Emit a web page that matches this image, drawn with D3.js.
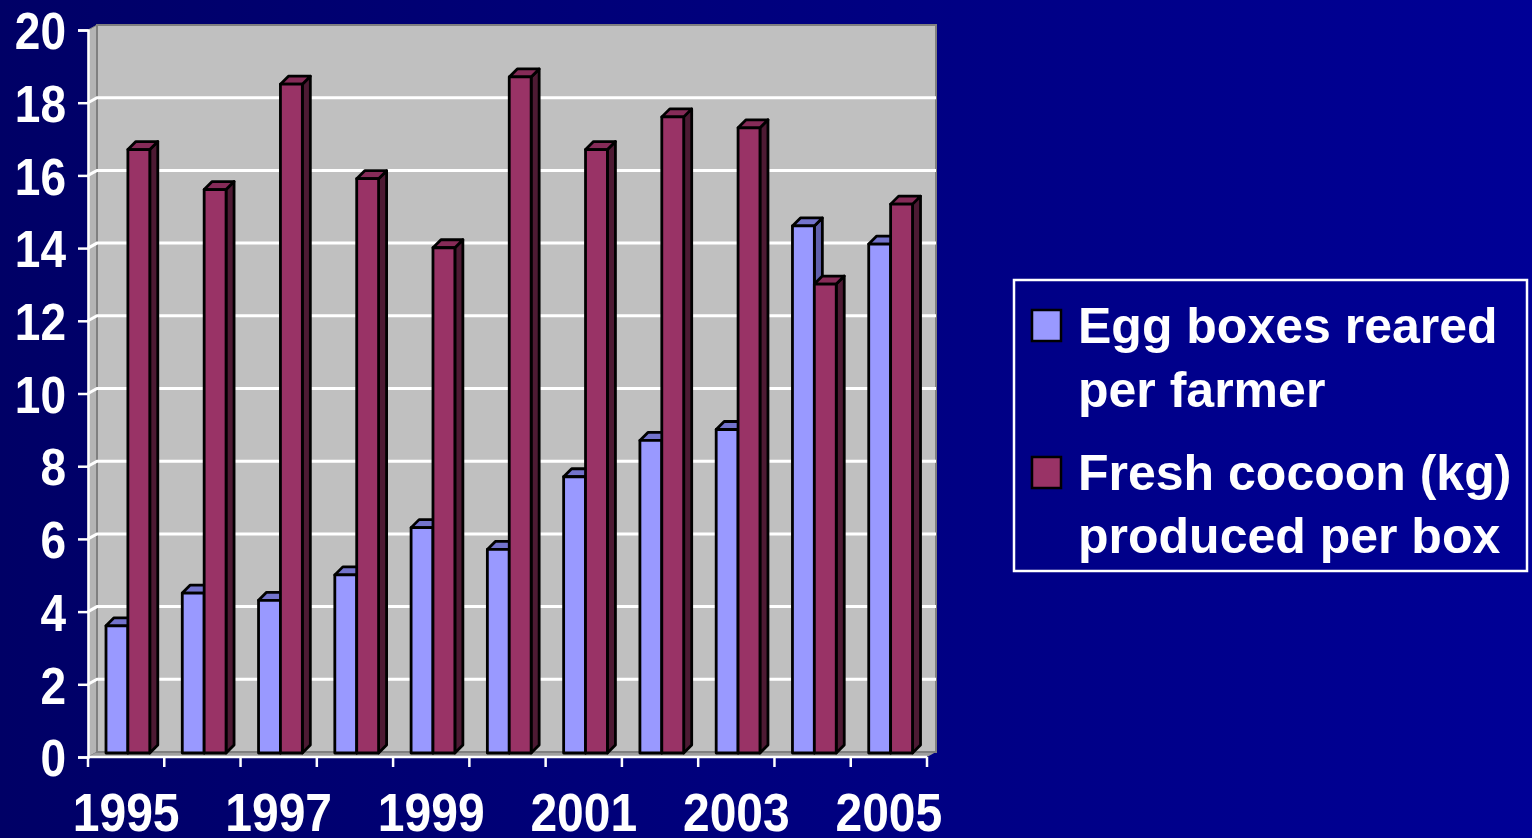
<!DOCTYPE html>
<html>
<head>
<meta charset="utf-8">
<script src="https://cdn.jsdelivr.net/npm/d3@7"></script>
<style>
  html, body { margin: 0; padding: 0; overflow: hidden; }
  body { width: 1532px; height: 838px; }
  text { font-family: "Liberation Sans", Arial, sans-serif; font-weight: bold; fill: #fff; }
</style>
</head>
<body>
<div class="card"></div>
<script>
/* global d3*/

var years = ["1995", "1996", "1997", "1998", "1999", "2000", "2001", "2002", "2003", "2004", "2005"];
var eggBoxes = [3.5, 4.4, 4.2, 4.9, 6.2, 5.6, 7.6, 8.6, 8.9, 14.5, 14.0];
var cocoonKg = [16.6, 15.5, 18.4, 15.8, 13.9, 18.6, 16.6, 17.5, 17.2, 12.9, 15.1];
var yTicks = [0, 2, 4, 6, 8, 10, 12, 14, 16, 18, 20];
var xLabels = ["1995", "1997", "1999", "2001", "2003", "2005"];
var seriesNames = [["Egg boxes reared", "per farmer"], ["Fresh cocoon (kg)", "produced per box"]];

var width = 1532,
    height = 838;

var svg = d3.select(".card").append("svg")
    .attr("width", width)
    .attr("height", height);

// background
var defs = svg.append("defs");
var grad = defs.append("linearGradient").attr("id", "bg")
    .attr("x1", "0").attr("x2", "1").attr("y1", "0").attr("y2", "0");
grad.append("stop").attr("offset", "0").attr("stop-color", "#000066");
grad.append("stop").attr("offset", "1").attr("stop-color", "#000096");
svg.append("rect").attr("width", width).attr("height", height).attr("fill", "url(#bg)");

var x = d3.scaleBand().domain(years).range([88, 927]).padding(0);
var y = d3.scaleLinear().domain([0, 20]).range([757, 30]);
var bw = x.bandwidth();
var inner = d3.scaleBand().domain([0, 1]).range([bw * 0.236, bw * 0.81]).padding(0);

// depth of wall and bars
var wdx = 9, wdy = -5;
var bdx = 8, bdy = -8;
var bShift = -4;

// side wall, floor, back wall
svg.append("polygon")
    .attr("points", [[88, y(0)], [88, y(20)], [88 + wdx, y(20) + wdy], [88 + wdx, y(0) + wdy]].join(" "))
    .attr("fill", "#b4b4b4").attr("stroke", "#808080").attr("stroke-width", 1);
svg.append("polygon")
    .attr("points", [[88, y(0)], [927, y(0)], [927 + wdx, y(0) + wdy], [88 + wdx, y(0) + wdy]].join(" "))
    .attr("fill", "#a0a0a0");
svg.append("rect")
    .attr("x", 88 + wdx).attr("y", y(20) + wdy)
    .attr("width", 927 - 88).attr("height", y(0) - y(20))
    .attr("fill", "#c0c0c0").attr("stroke", "#808080").attr("stroke-width", 2);

// gridlines (back wall + side wall)
svg.append("g").selectAll("path").data(yTicks.slice(1, -1)).enter().append("path")
    .attr("d", function(d) {
        return "M88," + y(d) + "L" + (88 + wdx) + "," + (y(d) + wdy) + "L" + (927 + wdx) + "," + (y(d) + wdy);
    })
    .attr("fill", "none").attr("stroke", "#fff").attr("stroke-width", 3);

// bars
var colors = [
    { front: "#9999ff", top: "#7373cc", side: "#6060ad" },
    { front: "#993366", top: "#862b58", side: "#4d1a33" }
];
var rows = years.map(function(yr, i) { return { year: yr, vals: [eggBoxes[i], cocoonKg[i]] }; });

var drawBar = function(g, x0, v, c) {
    var x1 = x0 + inner.bandwidth();
    var yt = y(v) + bShift, yb = y(0) + bShift;
    g.append("polygon")
        .attr("points", [[x1, yt], [x1 + bdx, yt + bdy], [x1 + bdx, yb + bdy], [x1, yb]].join(" "))
        .attr("fill", c.side);
    g.append("polygon")
        .attr("points", [[x0, yt], [x0 + bdx, yt + bdy], [x1 + bdx, yt + bdy], [x1, yt]].join(" "))
        .attr("fill", c.top);
    g.append("rect")
        .attr("x", x0).attr("y", yt).attr("width", x1 - x0).attr("height", yb - yt)
        .attr("fill", c.front);
};

var cat = svg.append("g").selectAll("g").data(rows).enter().append("g")
    .attr("stroke", "#000").attr("stroke-width", 2.8).attr("stroke-linejoin", "round");
cat.each(function(d) {
    var g = d3.select(this);
    d.vals.forEach(function(v, s) {
        drawBar(g.append("g"), x(d.year) + inner(s), v, colors[s]);
    });
});

// y axis
var yAxis = svg.append("g").attr("transform", "translate(88,0)")
    .call(d3.axisLeft(y).tickValues(yTicks).tickSize(10).tickPadding(12));
yAxis.select(".domain").attr("stroke", "#fff").attr("stroke-width", 2.5);
yAxis.selectAll(".tick line").attr("stroke", "#fff").attr("stroke-width", 2.5);
yAxis.selectAll(".tick text")
    .attr("fill", "#fff").attr("font-size", 46).attr("font-family", null)
    .attr("dy", "0.36em")
    .attr("transform", "scale(1,1.13)");

// x axis
var xg = svg.append("g");
xg.append("line")
    .attr("x1", 88).attr("x2", 927).attr("y1", y(0)).attr("y2", y(0))
    .attr("stroke", "#fff").attr("stroke-width", 2.5);
xg.selectAll(".xt").data(years.map(function(d) { return x(d); }).concat([x.range()[1]]))
    .enter().append("line").attr("class", "xt")
    .attr("x1", function(d) { return d; }).attr("x2", function(d) { return d; })
    .attr("y1", y(0)).attr("y2", y(0) + 10)
    .attr("stroke", "#fff").attr("stroke-width", 2.5);
xg.selectAll("text").data(xLabels).enter().append("text")
    .attr("transform", function(d) { return "translate(" + (x(d) + bw / 2) + ",831) scale(1,1.13)"; })
    .attr("text-anchor", "middle")
    .attr("font-size", 48)
    .text(function(d) { return d; });

// legend
var legend = svg.append("g");
legend.append("rect")
    .attr("x", 1014).attr("y", 280).attr("width", 513).attr("height", 291)
    .attr("fill", "none").attr("stroke", "#fff").attr("stroke-width", 2.5);
var lineY = [[343, 407], [490, 553]];
seriesNames.forEach(function(names, s) {
    legend.append("rect")
        .attr("x", 1032).attr("y", lineY[s][0] - 33).attr("width", 29).attr("height", 31)
        .attr("fill", colors[s].front).attr("stroke", "#000").attr("stroke-width", 2.5);
    names.forEach(function(t, k) {
        legend.append("text")
            .attr("x", 1078).attr("y", lineY[s][k])
            .attr("font-size", 50)
            .text(t);
    });
});
</script>
</body>
</html>
